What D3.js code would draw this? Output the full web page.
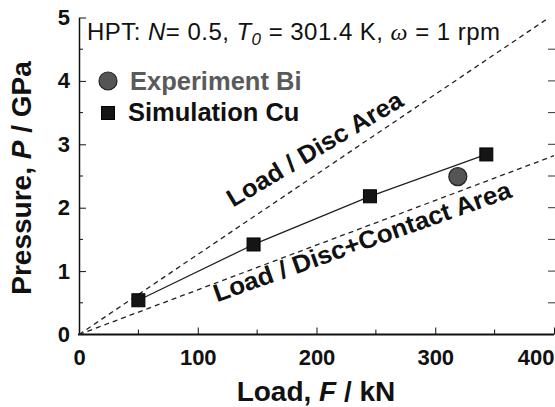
<!DOCTYPE html>
<html>
<head>
<meta charset="utf-8">
<script src="https://cdn.jsdelivr.net/npm/d3@7"></script>
<style>
  body { margin: 0; background: #fff; }
  svg { display: block; font-family: "Liberation Sans", Arial, sans-serif; }
</style>
</head>
<body>
<div class="page-svg"></div>
<script>
// data
const simLoad = [50, 147, 245, 343]
const simPressure = [0.54, 1.42, 2.18, 2.84]
const expLoad = [319]
const expPressure = [2.49]
// dashed reference lines (load / area), from the origin
const discLoad = [0, 396]
const discPressure = [0, 5]
const contactLoad = [0, 400]
const contactPressure = [0, 2.82]
// ticks
const xTicks = [0, 100, 200, 300, 400]
const xMinor = [50, 150, 250, 350]
const yTicks = [0, 1, 2, 3, 4, 5]
const yMinor = [0.5, 1.5, 2.5, 3.5, 4.5]
// line labels: text, start point, end point (data units)
const lineLabels = [
  { text: 'Load / Disc Area', from: [129.7, 2.0], to: [274.5, 3.62] },
  { text: 'Load / Disc+Contact Area', from: [116.2, 0.51], to: [365.5, 2.17] }
]

const width = 555, height = 407
const margin = { top: 17.5, right: 1, bottom: 72.5, left: 79 }

const x = d3.scaleLinear().domain([0, 400]).range([margin.left, width - margin.right])
const y = d3.scaleLinear().domain([0, 5]).range([height - margin.bottom, margin.top])

const svg = d3.select('.page-svg').append('svg')
  .attr('width', width)
  .attr('height', height)

const ink = '#111'

// minor ticks, inward
svg.append('g').selectAll('line').data(xMinor).join('line')
  .attr('x1', d => x(d)).attr('x2', d => x(d))
  .attr('y1', y(0)).attr('y2', y(0) - 5)
  .attr('stroke', ink).attr('stroke-width', 1)
svg.append('g').selectAll('line').data(yMinor).join('line')
  .attr('x1', x(0)).attr('x2', x(0) + 4)
  .attr('y1', d => y(d)).attr('y2', d => y(d))
  .attr('stroke', ink).attr('stroke-width', 1)
// right side ticks
svg.append('g').selectAll('line').data(yTicks.concat(yMinor).filter(d => d > 0 && d < 5)).join('line')
  .attr('x1', width).attr('x2', width - 7)
  .attr('y1', d => y(d)).attr('y2', d => y(d))
  .attr('stroke', '#333').attr('stroke-width', 1)

// axes
const xAxis = d3.axisBottom(x).tickValues(xTicks).tickFormat(d3.format('d'))
  .tickSizeInner(-7).tickSizeOuter(0).tickPadding(15)
const yAxis = d3.axisLeft(y).tickValues(yTicks).tickFormat(d3.format('d'))
  .tickSizeInner(-7).tickSizeOuter(0).tickPadding(15)

const gx = svg.append('g')
  .attr('transform', `translate(0,${y(0)})`)
  .call(xAxis)
gx.select('.domain').attr('stroke', ink).attr('stroke-width', 2).attr('d', `M${x(0) - 1},0H${x(400)}`)
gx.selectAll('.tick line').attr('stroke', ink)
gx.selectAll('.tick text')
  .attr('fill', ink)
  .attr('font-size', 22)
  .attr('font-weight', 'bold')
  .attr('font-family', '"Liberation Sans", Arial, sans-serif')
  .attr('dy', '0.71em')
gx.selectAll('.tick').filter(d => d === 400).select('text')
  .attr('text-anchor', 'end').attr('x', 0)
gx.selectAll('.tick').filter(d => d === 0).select('line').remove()

const gy = svg.append('g')
  .attr('transform', `translate(${x(0)},0)`)
  .call(yAxis)
gy.select('.domain').attr('stroke', ink).attr('stroke-width', 1.5)
gy.selectAll('.tick line').attr('stroke', ink)
gy.selectAll('.tick').filter(d => d === 0).select('line').remove()
gy.selectAll('.tick text')
  .attr('fill', ink)
  .attr('font-size', 22)
  .attr('font-weight', 'bold')
  .attr('font-family', '"Liberation Sans", Arial, sans-serif')
  .attr('x', -9)

// axis titles
const yTitle = svg.append('text')
  .attr('transform', `translate(31,${(y(0) + y(5)) / 2 + 2}) rotate(-90)`)
  .attr('text-anchor', 'middle')
  .attr('font-size', 28)
  .attr('font-weight', 'bold')
  .attr('fill', ink)
yTitle.append('tspan').text('Pressure, ')
yTitle.append('tspan').attr('font-style', 'italic').text('P')
yTitle.append('tspan').text(' / GPa')

const xTitle = svg.append('text')
  .attr('x', 316)
  .attr('y', 401)
  .attr('text-anchor', 'middle')
  .attr('font-size', 28)
  .attr('font-weight', 'bold')
  .attr('fill', ink)
xTitle.append('tspan').text('Load, ')
xTitle.append('tspan').attr('font-style', 'italic').text('F')
xTitle.append('tspan').text(' / kN')

// dashed reference lines
const line = d3.line().x(d => x(d[0])).y(d => y(d[1]))
const refLines = [d3.zip(discLoad, discPressure), d3.zip(contactLoad, contactPressure)]
svg.append('g').selectAll('path').data(refLines).join('path')
  .attr('d', line)
  .attr('fill', 'none')
  .attr('stroke', '#222')
  .attr('stroke-width', 1.3)
  .attr('stroke-dasharray', '5,4')

// line labels, laid along their start / end points
svg.append('g').selectAll('text').data(lineLabels).join('text')
  .attr('transform', d => {
    const ang = Math.atan2(y(d.to[1]) - y(d.from[1]), x(d.to[0]) - x(d.from[0])) * 180 / Math.PI
    return `translate(${x(d.from[0])},${y(d.from[1])}) rotate(${ang})`
  })
  .attr('textLength', d => Math.hypot(y(d.to[1]) - y(d.from[1]), x(d.to[0]) - x(d.from[0])))
  .attr('lengthAdjust', 'spacingAndGlyphs')
  .attr('font-size', 25)
  .attr('font-weight', 'bold')
  .attr('fill', ink)
  .text(d => d.text)

// simulation line + squares
const sim = d3.zip(simLoad, simPressure)
svg.append('path')
  .datum(sim)
  .attr('d', line)
  .attr('fill', 'none')
  .attr('stroke', '#222')
  .attr('stroke-width', 1.3)

const sq = 13
svg.append('g').selectAll('rect').data(sim).join('rect')
  .attr('x', d => x(d[0]) - sq / 2)
  .attr('y', d => y(d[1]) - sq / 2)
  .attr('width', sq)
  .attr('height', sq)
  .attr('fill', '#151515')
  .attr('stroke', '#000')
  .attr('stroke-width', 1)

// experiment circle
svg.append('g').selectAll('circle').data(d3.zip(expLoad, expPressure)).join('circle')
  .attr('cx', d => x(d[0]))
  .attr('cy', d => y(d[1]))
  .attr('r', 9)
  .attr('fill', '#555')
  .attr('stroke', '#222')
  .attr('stroke-width', 1.2)

// header text
const head = svg.append('text')
  .attr('x', 87)
  .attr('y', 40)
  .attr('font-size', 24)
  .attr('fill', ink)
  .attr('textLength', 413)
head.append('tspan').text('HPT: ')
head.append('tspan').attr('font-style', 'italic').text('N')
head.append('tspan').text('= 0.5,  ')
head.append('tspan').attr('font-style', 'italic').text('T')
head.append('tspan').attr('font-style', 'italic').attr('font-size', 17).attr('dy', 5).text('0')
head.append('tspan').attr('dy', -5).text(' = 301.4 K, ')
head.append('tspan').attr('font-style', 'italic').attr('font-family', '"Liberation Serif", serif').text('ω')
head.append('tspan').text(' = 1 rpm')

// draw legends
const legend = svg.append('g')
legend.append('circle')
  .attr('cx', 108).attr('cy', 81).attr('r', 9)
  .attr('fill', '#555').attr('stroke', '#222').attr('stroke-width', 1.2)
legend.append('text')
  .attr('x', 130).attr('y', 90)
  .attr('font-size', 25.5).attr('font-weight', 'bold')
  .attr('fill', '#5a5a5a')
  .text('Experiment Bi')
legend.append('rect')
  .attr('x', 108 - 6.5).attr('y', 113 - 6.5).attr('width', 13).attr('height', 13)
  .attr('fill', '#151515').attr('stroke', '#000')
legend.append('text')
  .attr('x', 128).attr('y', 121)
  .attr('font-size', 25.5).attr('font-weight', 'bold')
  .attr('fill', ink)
  .text('Simulation Cu')
</script>
</body>
</html>
